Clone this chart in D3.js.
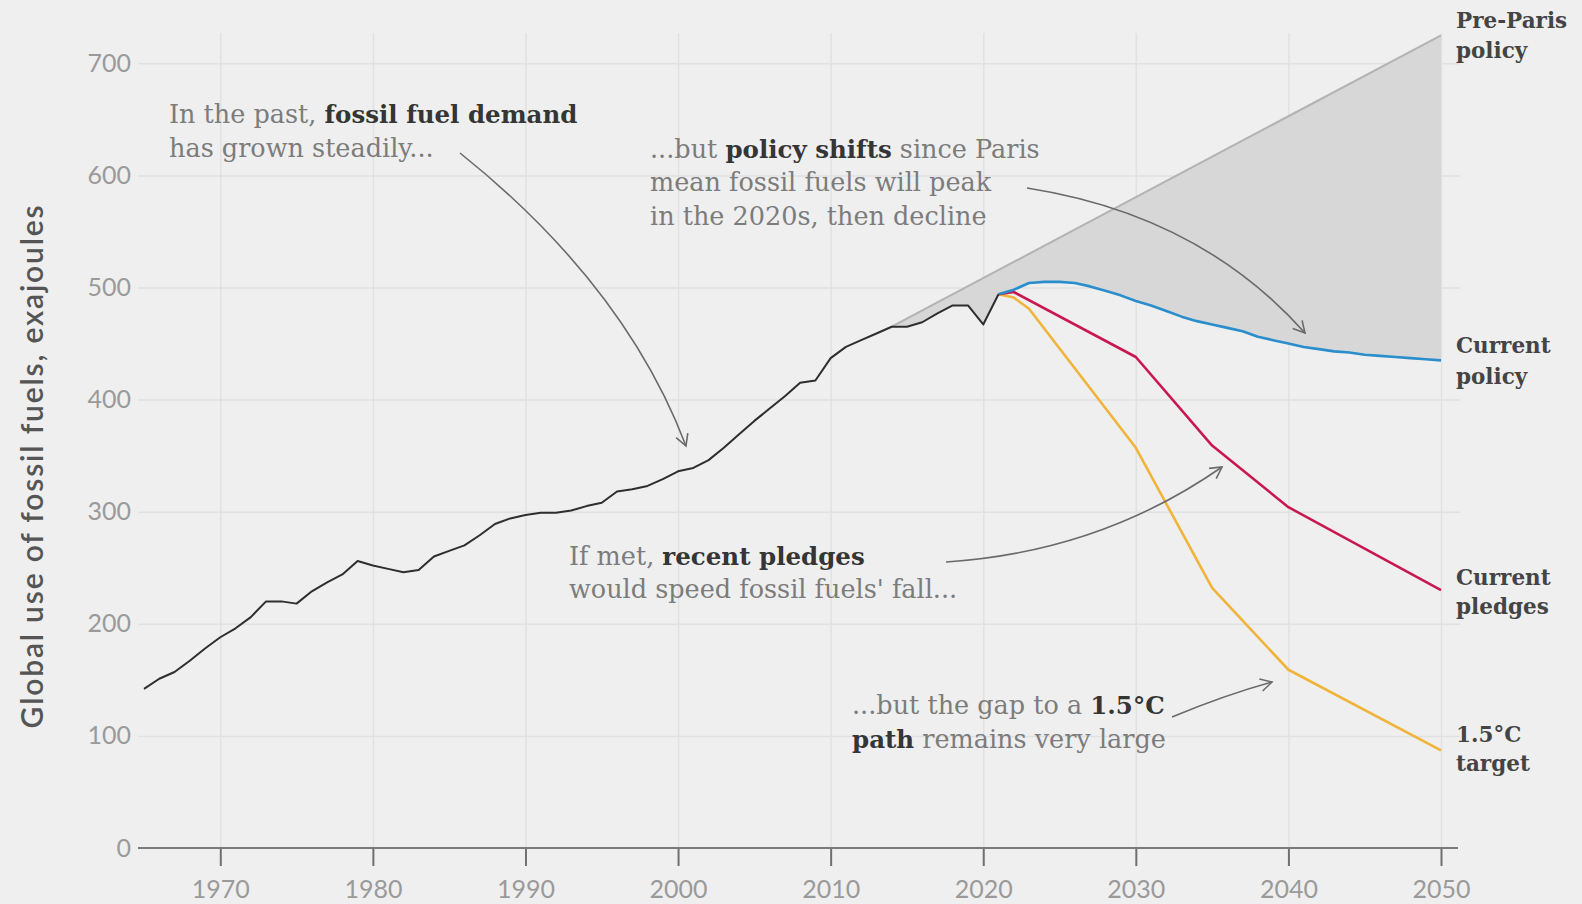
<!DOCTYPE html>
<html>
<head>
<meta charset="utf-8">
<script src="https://cdn.jsdelivr.net/npm/d3@7"></script>
<style>
  html, body { margin: 0; padding: 0; background: #efefef; }
  svg { display: block; }
</style>
</head>
<body>
<svg id="chart" width="1582" height="904"></svg>
<script>
// ---------------- DATA ----------------
const histYears = [1965,1966,1967,1968,1969,1970,1971,1972,1973,1974,1975,1976,1977,1978,1979,
  1980,1981,1982,1983,1984,1985,1986,1987,1988,1989,1990,1991,1992,1993,1994,1995,1996,1997,1998,1999,
  2000,2001,2002,2003,2004,2005,2006,2007,2008,2009,2010,2011,2012,2013,2014,2015,2016,2017,2018,2019,2020,2021];
const histValues = [142,151,157,167,178,188,196,206,220,220,218,229,237,244,256,
  252,249,246,248,260,265,270,279,289,294,297,299,299,301,305,308,318,320,323,329,
  336,339,346,357,369,381,392,403,415,417,437,447,453,459,465,465,469,477,484,484,467,494];

const prePolicyYears = [2014, 2050];
const prePolicyValues = [465, 725];

const currentPolicyYears = [2021,2022,2023,2024,2025,2026,2027,2028,2029,2030,2031,2032,2033,2034,2035,
  2036,2037,2038,2039,2040,2041,2042,2043,2044,2045,2046,2047,2048,2049,2050];
const currentPolicyValues = [494,498,504,505,505,504,501,497,493,488,484,479,474,470,467,
  464,461,456,453,450,447,445,443,442,440,439,438,437,436,435];

const pledgesYears = [2021, 2022, 2030, 2035, 2040, 2050];
const pledgesValues = [494, 496, 438, 359, 304, 230];

const target15Years = [2021, 2022, 2023, 2030, 2035, 2040, 2050];
const target15Values = [494, 491, 481, 357, 232, 159, 87];

const yTickValues = [0, 100, 200, 300, 400, 500, 600, 700];
const xTickValues = [1970, 1980, 1990, 2000, 2010, 2020, 2030, 2040, 2050];

const seriesLabels = [
  { lines: ["Pre-Paris", "policy"], value: 725 },
  { lines: ["Current", "policy"], value: 435 },
  { lines: ["Current", "pledges"], value: 230 },
  { lines: ["1.5°C", "target"], value: 87 }
];

// ---------------- LAYOUT ----------------
const svg = d3.select("#chart");
const x = d3.scaleLinear().domain([1965, 2050]).range([144, 1441]);
const y = d3.scaleLinear().domain([0, 700]).range([848, 63.3]);
const gridLeft = 138, gridRight = 1460, gridTop = 33;

svg.append("rect").attr("width", 1582).attr("height", 904).attr("fill", "#efefef");

const sans = "Lato, 'Open Sans', sans-serif";
const slab = "'DejaVu Serif', serif";

// horizontal grid + y labels
const yAxis = svg.append("g")
  .attr("transform", `translate(${gridLeft},0)`)
  .call(d3.axisLeft(y).tickValues(yTickValues).tickSize(-(gridRight - gridLeft)).tickPadding(7));
yAxis.select(".domain").remove();
yAxis.selectAll(".tick line").attr("stroke", "#e1e1e1").attr("stroke-width", 1.5)
  .filter(d => d === 0).remove();
yAxis.selectAll(".tick text").attr("fill", "#9a9a9a").style("font-family", sans).style("font-size", "25px");

// vertical grid
const xGrid = svg.append("g")
  .attr("transform", `translate(0,${y(0)})`)
  .call(d3.axisBottom(x).tickValues(xTickValues).tickSize(-(y(0) - gridTop)).tickFormat(""));
xGrid.select(".domain").remove();
xGrid.selectAll(".tick line").attr("stroke", "#e1e1e1").attr("stroke-width", 1.5);

// shaded gap area: between pre-Paris line and history/current policy
const preLine = d3.scaleLinear().domain(prePolicyYears).range(prePolicyValues);
const lowerPts = [];
histYears.forEach((yr, i) => { if (yr >= prePolicyYears[0]) lowerPts.push([yr, histValues[i]]); });
currentPolicyYears.forEach((yr, i) => { if (yr > 2021) lowerPts.push([yr, currentPolicyValues[i]]); });
const areaGen = d3.area()
  .x(d => x(d[0]))
  .y0(d => y(d[1]))
  .y1(d => y(preLine(d[0])));
svg.append("path").datum(lowerPts).attr("d", areaGen).attr("fill", "#d7d7d7");

// x axis baseline + ticks + labels
const xAxis = svg.append("g")
  .attr("transform", `translate(0,${y(0)})`)
  .call(d3.axisBottom(x).tickValues(xTickValues).tickSize(18).tickPadding(14).tickFormat(d3.format("d")));
xAxis.select(".domain").remove();
xAxis.selectAll(".tick line").attr("stroke", "#6f6f6f").attr("stroke-width", 2);
xAxis.selectAll(".tick text").attr("fill", "#9a9a9a").style("font-family", sans).style("font-size", "25px");
svg.append("line").attr("x1", gridLeft).attr("x2", 1458).attr("y1", y(0)).attr("y2", y(0))
  .attr("stroke", "#7a7a7a").attr("stroke-width", 2);

// lines
const lineGen = d3.line().x(d => x(d[0])).y(d => y(d[1]));
const zip = (a, b) => a.map((v, i) => [v, b[i]]);

svg.append("path").datum(zip(prePolicyYears, prePolicyValues)).attr("d", lineGen)
  .attr("fill", "none").attr("stroke", "#b3b3b3").attr("stroke-width", 2);
svg.append("path").datum(zip(target15Years, target15Values)).attr("d", lineGen)
  .attr("fill", "none").attr("stroke", "#f0b43a").attr("stroke-width", 2.6).attr("stroke-linejoin", "round");
svg.append("path").datum(zip(pledgesYears, pledgesValues)).attr("d", lineGen)
  .attr("fill", "none").attr("stroke", "#c9174f").attr("stroke-width", 2.6).attr("stroke-linejoin", "round");
svg.append("path").datum(zip(currentPolicyYears, currentPolicyValues)).attr("d", lineGen)
  .attr("fill", "none").attr("stroke", "#2a8dcc").attr("stroke-width", 2.6).attr("stroke-linejoin", "round");
svg.append("path").datum(zip(histYears, histValues)).attr("d", lineGen)
  .attr("fill", "none").attr("stroke", "#2e2e2e").attr("stroke-width", 2).attr("stroke-linejoin", "round");

// y axis title
svg.append("text")
  .attr("transform", "translate(43,466) rotate(-90)")
  .attr("text-anchor", "middle")
  .attr("fill", "#555")
  .style("font-family", sans).style("font-size", "30px").style("font-weight", "600")
  .style("letter-spacing", "1.8px")
  .text("Global use of fossil fuels, exajoules");

// right-hand series labels
const labelY = [[28, 58], [353, 384], [585, 614], [742, 771]];
seriesLabels.forEach((s, i) => {
  s.lines.forEach((ln, j) => {
    svg.append("text").attr("x", 1456).attr("y", labelY[i][j])
      .attr("fill", "#444").style("font-family", slab).style("font-size", "21.5px").style("font-weight", "bold")
      .text(ln);
  });
});

// annotations
function annot(xp, lines) {
  lines.forEach(l => {
    const t = svg.append("text").attr("x", xp).attr("y", l.y)
      .style("font-family", slab);
    l.parts.forEach(p => {
      t.append("tspan").text(p[0])
        .attr("fill", p[1] ? "#353535" : "#7c7c7c")
        .style("font-size", p[1] ? "24.5px" : "25.5px")
        .style("font-weight", p[1] ? "bold" : "normal");
    });
  });
}
annot(169, [
  { y: 123, parts: [["In the past, ", false], ["fossil fuel demand", true]] },
  { y: 157, parts: [["has grown steadily...", false]] }
]);
annot(650, [
  { y: 158, parts: [["...but ", false], ["policy shifts", true], [" since Paris", false]] },
  { y: 191, parts: [["mean fossil fuels will peak", false]] },
  { y: 225, parts: [["in the 2020s, then decline", false]] }
]);
annot(569, [
  { y: 565, parts: [["If met, ", false], ["recent pledges", true]] },
  { y: 598, parts: [["would speed fossil fuels' fall...", false]] }
]);
annot(852, [
  { y: 714, parts: [["...but the gap to a ", false], ["1.5°C", true]] },
  { y: 748, parts: [["path", true], [" remains very large", false]] }
]);

// curved arrows
function arrow(p0, c, p2) {
  const p = d3.path();
  p.moveTo(p0[0], p0[1]);
  p.quadraticCurveTo(c[0], c[1], p2[0], p2[1]);
  svg.append("path").attr("d", p.toString()).attr("fill", "none")
    .attr("stroke", "#6a6a6a").attr("stroke-width", 1.6);
  const ang = Math.atan2(p2[1] - c[1], p2[0] - c[0]);
  const L = 13, spread = 0.5;
  const h = d3.path();
  h.moveTo(p2[0] - L * Math.cos(ang - spread), p2[1] - L * Math.sin(ang - spread));
  h.lineTo(p2[0], p2[1]);
  h.lineTo(p2[0] - L * Math.cos(ang + spread), p2[1] - L * Math.sin(ang + spread));
  svg.append("path").attr("d", h.toString()).attr("fill", "none")
    .attr("stroke", "#6a6a6a").attr("stroke-width", 1.6);
}
arrow([460, 153], [625, 285], [686, 446]);
arrow([1027, 188], [1200, 215], [1305, 333]);
arrow([946, 562], [1100, 552], [1222, 467]);
arrow([1172, 717], [1225, 695], [1272, 682]);
</script>
</body>
</html>
